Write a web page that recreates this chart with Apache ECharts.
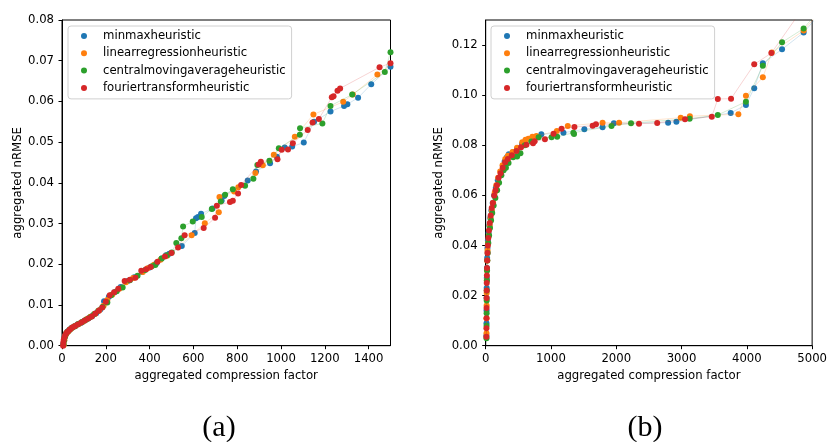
<!DOCTYPE html>
<html>
<head>
<meta charset="utf-8">
<script src="https://cdn.jsdelivr.net/npm/echarts@6/dist/echarts.min.js"></script>
<style>
  html, body { margin: 0; padding: 0; background: #fff; }
  #main { width: 830px; height: 442px; }
</style>
</head>
<body>
<div id="main"></div>
<script>
// series names, same in both panels
var names = ['minmaxheuristic', 'linearregressionheuristic', 'centralmovingaverageheuristic', 'fouriertransformheuristic'];
var colors = ['#1f77b4', '#ff7f0e', '#2ca02c', '#d62728'];

// panel (a): [aggregated compression factor, aggregated nRMSE]
var minmaxA = [
  [6,0.0004],[9,0.0015],[13,0.0023],[18,0.0029],[24,0.0034],[32,0.0038],[42,0.0043],[55,0.0047],[70,0.0052],
  [86,0.0056],[102,0.0061],[120,0.0067],[138,0.0073],[156,0.0080],[175,0.0089],[192,0.0109],[214,0.0120],
  [240,0.0131],[268,0.0144],[300,0.0159],[330,0.0168],[365,0.0181],[400,0.0192],[432,0.0203],[455,0.0214],
  [475,0.0222],[490,0.0226],[547,0.0245],[606,0.0277],[612,0.0313],[621,0.0316],[635,0.0324],[687,0.0337],
  [729,0.0356],[741,0.0368],[848,0.0406],[886,0.0428],[950,0.0448],[981,0.0464],[1017,0.0487],[1051,0.0489],
  [1104,0.0499],[1151,0.0550],[1226,0.0575],[1288,0.0589],[1303,0.0593],[1352,0.0609],[1412,0.0642],
  [1500,0.0685],[1580,0.0718]
];
var linregA = [
  [8,0.0002],[11,0.0014],[15,0.0024],[21,0.0031],[28,0.0035],[37,0.0040],[48,0.0045],[62,0.0049],[78,0.0054],
  [95,0.0059],[112,0.0065],[130,0.0071],[150,0.0078],[170,0.0087],[190,0.0098],[207,0.0112],[230,0.0126],
  [262,0.0140],[292,0.0156],[325,0.0166],[369,0.0181],[391,0.0190],[420,0.0199],[450,0.0211],[480,0.0221],
  [592,0.0271],[652,0.0301],[716,0.0328],[719,0.0365],[786,0.0379],[805,0.0389],[883,0.0424],[917,0.0443],
  [967,0.0469],[1063,0.0513],[1148,0.0568],[1284,0.0599],[1328,0.0617],[1440,0.0666],[1560,0.0712]
];
var cmaA = [
  [7,0.0003],[10,0.0013],[14,0.0022],[19,0.0030],[26,0.0034],[35,0.0039],[46,0.0044],[60,0.0048],[75,0.0053],
  [92,0.0058],[110,0.0064],[128,0.0070],[146,0.0077],[165,0.0085],[185,0.0095],[207,0.0106],[225,0.0124],
  [250,0.0134],[277,0.0143],[310,0.0161],[345,0.0172],[380,0.0186],[410,0.0195],[426,0.0198],[455,0.0214],
  [480,0.0222],[501,0.0229],[522,0.0252],[545,0.0264],[553,0.0293],[597,0.0305],[638,0.0316],[684,0.0336],
  [725,0.0354],[745,0.0371],[780,0.0384],[836,0.0393],[874,0.0410],[892,0.0444],[947,0.0454],[990,0.0485],
  [1086,0.0518],[1087,0.0534],[1189,0.0546],[1226,0.0589],[1325,0.0617],[1474,0.0672],[1500,0.0721],[1540,0.0745]
];
var fourierA = [
  [5,0.0000],[6,0.0008],[8,0.0014],[11,0.0020],[15,0.0026],[20,0.0031],[27,0.0035],[36,0.0040],[47,0.0045],
  [58,0.0048],[72,0.0052],[88,0.0057],[104,0.0062],[120,0.0067],[136,0.0072],[152,0.0079],[168,0.0086],
  [184,0.0094],[200,0.0108],[218,0.0124],[238,0.0131],[257,0.0140],[286,0.0159],[310,0.0162],[335,0.0167],
  [362,0.0184],[384,0.0188],[405,0.0193],[436,0.0206],[470,0.0219],[500,0.0228],[530,0.0241],[560,0.0271],
  [647,0.0289],[699,0.0314],[707,0.0344],[767,0.0353],[780,0.0356],[804,0.0374],[818,0.0395],[898,0.0445],
  [908,0.0452],[984,0.0458],[1003,0.0481],[1032,0.0482],[1054,0.0497],[1122,0.0530],[1144,0.0548],
  [1173,0.0557],[1232,0.0610],[1240,0.0613],[1258,0.0626],[1270,0.0632],[1450,0.0684],[1500,0.0694],[1560,0.0715]
];

// panel (b)
var minmaxB = [
  [11,0.004],[12,0.009],[13,0.014],[14,0.019],[15,0.023],[17,0.027],[19,0.031],[22,0.035],[27,0.039],
  [34,0.042],[44,0.045],[56,0.048],[70,0.051],[88,0.054],[108,0.057],[130,0.060],[155,0.063],[185,0.066],
  [237,0.0695],[290,0.0735],[325,0.0752],[354,0.0764],[420,0.0772],[480,0.0785],[557,0.0805],[852,0.0844],
  [1191,0.0850],[1511,0.0864],[1790,0.0872],[1963,0.0888],[2794,0.0890],[2921,0.0894],[3753,0.0929],
  [3986,0.0961],[4113,0.1028],[4245,0.1127],[4539,0.1183],[4870,0.1250],[5300,0.1380]
];
var linregB = [
  [12,0.005],[13,0.011],[14,0.016],[15,0.021],[17,0.026],[19,0.030],[23,0.034],[28,0.038],[36,0.041],
  [47,0.044],[60,0.048],[75,0.051],[93,0.054],[114,0.057],[138,0.061],[162,0.064],[190,0.067],[222,0.0695],
  [258,0.072],[300,0.0745],[340,0.0758],[411,0.0773],[480,0.0790],[560,0.0812],[610,0.0822],[654,0.0826],
  [715,0.0834],[776,0.0837],[1090,0.0857],[1257,0.0877],[1790,0.0890],[2043,0.0890],[2987,0.0910],
  [3127,0.0916],[3870,0.0924],[3986,0.0998],[4245,0.1071],[4382,0.1170],[4870,0.1258],[5300,0.1390]
];
var cmaB = [
  [12,0.003],[13,0.008],[14,0.013],[15,0.018],[16,0.022],[18,0.026],[21,0.030],[25,0.034],[31,0.037],
  [40,0.041],[52,0.044],[66,0.047],[82,0.050],[100,0.053],[122,0.056],[148,0.059],[175,0.062],[205,0.065],
  [240,0.068],[275,0.070],[310,0.071],[350,0.0729],[420,0.0752],[481,0.0755],[532,0.0768],[600,0.0800],
  [700,0.0815],[811,0.0832],[1009,0.0832],[1095,0.0834],[1342,0.0850],[1353,0.0845],[1927,0.0877],
  [2226,0.0888],[3124,0.0906],[3555,0.0921],[3986,0.0974],[4245,0.1117],[4539,0.1211],[4870,0.1266],[5300,0.1400]
];
var fourierB = [
  [10,0.0036],[11,0.007],[12,0.011],[13,0.015],[14,0.019],[15,0.022],[16,0.025],[18,0.028],[20,0.031],
  [23,0.034],[27,0.037],[33,0.040],[40,0.043],[50,0.046],[62,0.049],[76,0.052],[92,0.055],[110,0.057],
  [130,0.060],[150,0.062],[172,0.064],[198,0.067],[228,0.0688],[260,0.071],[298,0.0732],[340,0.0745],
  [400,0.0760],[472,0.0777],[542,0.0792],[624,0.0802],[725,0.0808],[750,0.0816],[907,0.0824],[1039,0.0846],
  [1162,0.0866],[1359,0.0873],[1638,0.0878],[1689,0.0884],[2348,0.0886],[2627,0.0889],[3053,0.0904],
  [3463,0.0914],[3555,0.0985],[3758,0.0986],[4113,0.1123],[4376,0.1168],[4870,0.1351]
];

var yTicksA = [0, 0.01, 0.02, 0.03, 0.04, 0.05, 0.06, 0.07, 0.08];
var yTicksB = [0, 0.02, 0.04, 0.06, 0.08, 0.10, 0.12];

var dataA = [minmaxA, linregA, cmaA, fourierA];
var dataB = [minmaxB, linregB, cmaB, fourierB];

var font = 'DejaVu Sans';
var fs = 11.7;

function mkSeries(data, idx, axis) {
  return {
    name: names[idx],
    type: 'line',
    xAxisIndex: axis,
    yAxisIndex: axis,
    data: data,
    symbol: 'circle',
    symbolSize: 6,
    showSymbol: true,
    clip: true,
    itemStyle: { color: colors[idx] },
    lineStyle: { color: colors[idx], width: 0.8, opacity: 0.25 },
    emphasis: { disabled: true },
    z: 2 + idx
  };
}

var series = [];
dataA.forEach(function (d, i) { series.push(mkSeries(d, i, 0)); });
dataB.forEach(function (d, i) { series.push(mkSeries(d, i, 1)); });

function mkLegend(left) {
  return {
    orient: 'vertical',
    left: left,
    top: 26,
    data: names,
    icon: 'circle',
    itemWidth: 28,
    itemHeight: 6,
    itemGap: 3.3,
    padding: [3, 6, 4, 13],
    backgroundColor: 'rgba(255,255,255,0.8)',
    borderColor: '#d0d0d0',
    borderWidth: 1,
    borderRadius: 3,
    textStyle: { fontFamily: font, fontSize: fs, color: '#000', lineHeight: 14 },
    selectedMode: false
  };
}

function mkX(idx, max, interval) {
  return {
    type: 'value', gridIndex: idx, min: 0, max: max, interval: interval,
    name: 'aggregated compression factor', nameLocation: 'middle', nameGap: 24,
    nameTextStyle: { fontFamily: font, fontSize: fs, color: '#000' },
    splitLine: { show: false },
    axisLine: { lineStyle: { color: '#000', width: 1 } },
    axisTick: { length: 3.5, lineStyle: { color: '#000' } },
    axisLabel: {
      fontFamily: font, fontSize: fs, color: '#000', margin: 7,
      formatter: function (v) { return String(v); }
    }
  };
}

function mkY(idx, max, ticks, gap) {
  return {
    type: 'value', gridIndex: idx, min: 0, max: max,
    name: 'aggregated nRMSE', nameLocation: 'middle', nameGap: gap,
    nameTextStyle: { fontFamily: font, fontSize: fs, color: '#000' },
    splitLine: { show: false },
    axisLine: { lineStyle: { color: '#000', width: 1 } },
    axisTick: { length: 3.5, lineStyle: { color: '#000' }, customValues: ticks },
    axisLabel: {
      fontFamily: font, fontSize: fs, color: '#000', margin: 8, customValues: ticks,
      formatter: function (v) { return v.toFixed(2); }
    }
  };
}

var chart = echarts.init(document.getElementById('main'), null, { renderer: 'canvas' });
chart.setOption({
  animation: false,
  backgroundColor: '#fff',
  grid: [
    { left: 62, right: 439.5, top: 20, bottom: 96.3, show: true, borderColor: '#000', borderWidth: 1, backgroundColor: 'transparent' },
    { left: 485.7, right: 15.7, top: 20, bottom: 96.3, show: true, borderColor: '#000', borderWidth: 1, backgroundColor: 'transparent' }
  ],
  legend: [mkLegend(68), mkLegend(491)],
  xAxis: [mkX(0, 1500, 200), mkX(1, 5000, 1000)],
  yAxis: [mkY(0, 0.08, yTicksA, 38), mkY(1, 0.13, yTicksB, 41)],
  series: series,
  graphic: [
    { type: 'text', x: 219, y: 428, style: { text: '(a)', font: '30px "Liberation Serif", "DejaVu Serif", serif', fill: '#000', textAlign: 'center', textVerticalAlign: 'middle' } },
    { type: 'text', x: 645, y: 428, style: { text: '(b)', font: '30px "Liberation Serif", "DejaVu Serif", serif', fill: '#000', textAlign: 'center', textVerticalAlign: 'middle' } }
  ]
});
</script>
</body>
</html>
